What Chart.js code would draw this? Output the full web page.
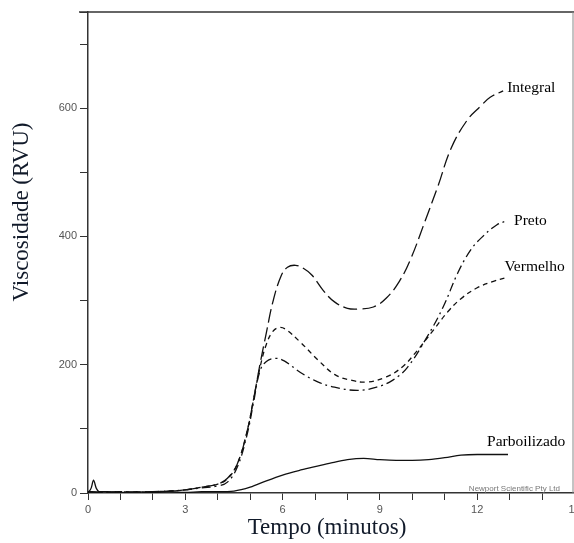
<!DOCTYPE html>
<html>
<head>
<meta charset="utf-8">
<script src="https://cdn.jsdelivr.net/npm/chart.js@4.4.1/dist/chart.umd.min.js"></script>
<style>
  html, body { margin: 0; padding: 0; background: #fff; overflow: hidden; }
  #wrap { width: 574px; height: 543px; overflow: hidden; }
  canvas { display: block; }
</style>
</head>
<body>
<div id="wrap"><canvas id="chart" width="600" height="543"></canvas></div>
<script>
// viscosity curves (RVA), time in minutes
const integralT = [0, 0.5, 1, 1.5, 2, 2.5, 3, 3.5, 4, 4.3, 4.6, 4.9, 5.1, 5.3, 5.5, 5.7, 5.95, 6.15, 6.4, 6.65, 6.9, 7.25, 7.6, 8.0, 8.35, 8.8, 9.2, 9.6, 9.95, 10.4, 10.8, 11.2, 11.7, 12.1, 12.4, 12.8];
const integralV = [2, 1, 2, 1, 2, 3, 5, 9, 14, 23, 45, 95, 145, 200, 250, 298, 338, 352, 355, 350, 340, 316, 298, 288, 287, 290, 304, 330, 365, 425, 480, 538, 582, 603, 617, 627];

const pretoT = [0, 0.5, 1, 1.5, 2, 2.5, 3, 3.5, 4, 4.3, 4.6, 4.9, 5.1, 5.3, 5.5, 5.8, 6.05, 6.55, 7.1, 7.6, 8.3, 8.9, 9.4, 9.85, 10.45, 10.95, 11.4, 11.8, 12.15, 12.6, 12.95];
const pretoV = [2, 1, 2, 1, 2, 3, 5, 8, 11, 17, 40, 90, 140, 190, 205, 210, 206, 188, 173, 165, 160, 165, 176, 196, 243, 290, 343, 379, 399, 418, 425];

const vermelhoT = [0, 0.5, 1, 1.5, 2, 2.5, 3, 3.5, 4, 4.3, 4.6, 4.9, 5.1, 5.3, 5.5, 5.7, 5.9, 6.1, 6.55, 7.1, 7.6, 8.1, 8.6, 9.2, 9.7, 10.15, 10.65, 11.1, 11.5, 12, 12.5, 12.9];
const vermelhoV = [2, 1, 2, 1, 2, 3, 5, 9, 14, 22, 45, 95, 145, 195, 232, 252, 258, 255, 235, 207, 185, 176, 173, 181, 197, 222, 254, 283, 303, 320, 330, 336];

const parboT = [0, 0.1, 0.17, 0.25, 0.35, 0.6, 1, 1.5, 2, 2.5, 3, 3.5, 4, 4.5, 5, 5.5, 6, 6.5, 7, 7.5, 8, 8.5, 9, 9.5, 10, 10.5, 11, 11.5, 12, 12.5, 12.95];
const parboV = [0, 8, 20, 8, 2, 2, 1, 2, 1, 2, 1, 2, 2, 3, 9, 19, 28, 35, 41, 47, 52, 54, 52, 51, 51, 52, 55, 59, 60, 60, 60];

const xTickLabels = [0, 3, 6, 9, 12, 15];
const yTickLabels = [0, 200, 400, 600];

const pts = (t, v) => t.map((x, i) => ({ x: x, y: v[i] }));

const series = [
  { label: "Integral", data: pts(integralT, integralV), dash: [14, 5], smooth: true, dx: 4, dy: -3 },
  { label: "Preto", data: pts(pretoT, pretoV), dash: [9, 4, 2, 4], smooth: true, dx: 6, dy: 0 },
  { label: "Vermelho", data: pts(vermelhoT, vermelhoV), dash: [5, 4], smooth: true, dx: -2, dy: -11 },
  { label: "Parboilizado", data: pts(parboT, parboV), dash: [], smooth: false, dx: -21, dy: -13 },
];

const decor = {
  id: "decor",
  afterDraw(chart) {
    const { ctx, chartArea: a, scales } = chart;
    ctx.save();
    // frame: top and right
    ctx.strokeStyle = "#333";
    ctx.lineWidth = 1.5;
    ctx.beginPath();
    ctx.moveTo(a.left - 9, a.top);
    ctx.lineTo(a.right, a.top);
    ctx.stroke();
    ctx.strokeStyle = "#888";
    ctx.lineWidth = 1;
    ctx.beginPath();
    ctx.moveTo(a.right - 1.5, a.top);
    ctx.lineTo(a.right - 1.5, a.bottom);
    ctx.stroke();

    // series labels at the curve ends
    ctx.fillStyle = "#000";
    ctx.font = "15.5px 'Liberation Serif', serif";
    ctx.textBaseline = "middle";
    ctx.textAlign = "left";
    series.forEach(s => {
      const last = s.data[s.data.length - 1];
      const px = scales.x.getPixelForValue(last.x);
      const py = scales.y.getPixelForValue(last.y);
      ctx.fillText(s.label, px + s.dx, py + s.dy);
    });

    // instrument credit
    ctx.fillStyle = "#777";
    ctx.font = "8px 'Liberation Sans', sans-serif";
    ctx.textAlign = "right";
    ctx.textBaseline = "alphabetic";
    ctx.fillText("Newport Scientific Pty Ltd", 560, a.bottom - 2);

    // axis titles
    ctx.fillStyle = "#111a2a";
    ctx.font = "23px 'Liberation Serif', serif";
    ctx.textAlign = "center";
    ctx.textBaseline = "middle";
    ctx.fillText("Tempo (minutos)", 327, 528);
    ctx.translate(22, 212);
    ctx.rotate(-Math.PI / 2);
    ctx.fillText("Viscosidade (RVU)", 0, 0);
    ctx.restore();
  }
};

new Chart(document.getElementById("chart").getContext("2d"), {
  type: "line",
  data: {
    datasets: series.map(s => ({
      label: s.label,
      data: s.data,
      borderColor: "#111",
      borderWidth: 1.3,
      borderDash: s.dash,
      pointRadius: 0,
      fill: false,
      tension: s.smooth ? 0.4 : 0,
      cubicInterpolationMode: s.smooth ? "default" : "monotone",
    })),
  },
  options: {
    responsive: false,
    animation: false,
    layout: { padding: { left: 0, right: 25.5, top: 12, bottom: 0 } },
    plugins: { legend: { display: false }, tooltip: { enabled: false } },
    scales: {
      x: {
        type: "linear",
        min: 0,
        max: 15,
        afterFit: s => { s.height = 50; },
        border: { color: "#333", width: 1.5 },
        grid: { drawOnChartArea: false, drawTicks: true, tickLength: 7, color: "#333" },
        ticks: {
          stepSize: 1,
          autoSkip: false,
          maxRotation: 0,
          padding: 3,
          color: "#555",
          font: { family: "'Liberation Sans', sans-serif", size: 11 },
          callback: v => (xTickLabels.includes(v) ? String(v) : ""),
        },
      },
      y: {
        min: 0,
        max: 750,
        afterFit: s => { s.width = 88; },
        border: { color: "#333", width: 1.5 },
        grid: { drawOnChartArea: false, drawTicks: true, tickLength: 8, color: "#333" },
        ticks: {
          stepSize: 100,
          autoSkip: false,
          padding: 3,
          color: "#555",
          font: { family: "'Liberation Sans', sans-serif", size: 11 },
          callback: v => (yTickLabels.includes(v) ? String(v) : ""),
        },
      },
    },
  },
  plugins: [decor],
});
</script>
</body>
</html>
